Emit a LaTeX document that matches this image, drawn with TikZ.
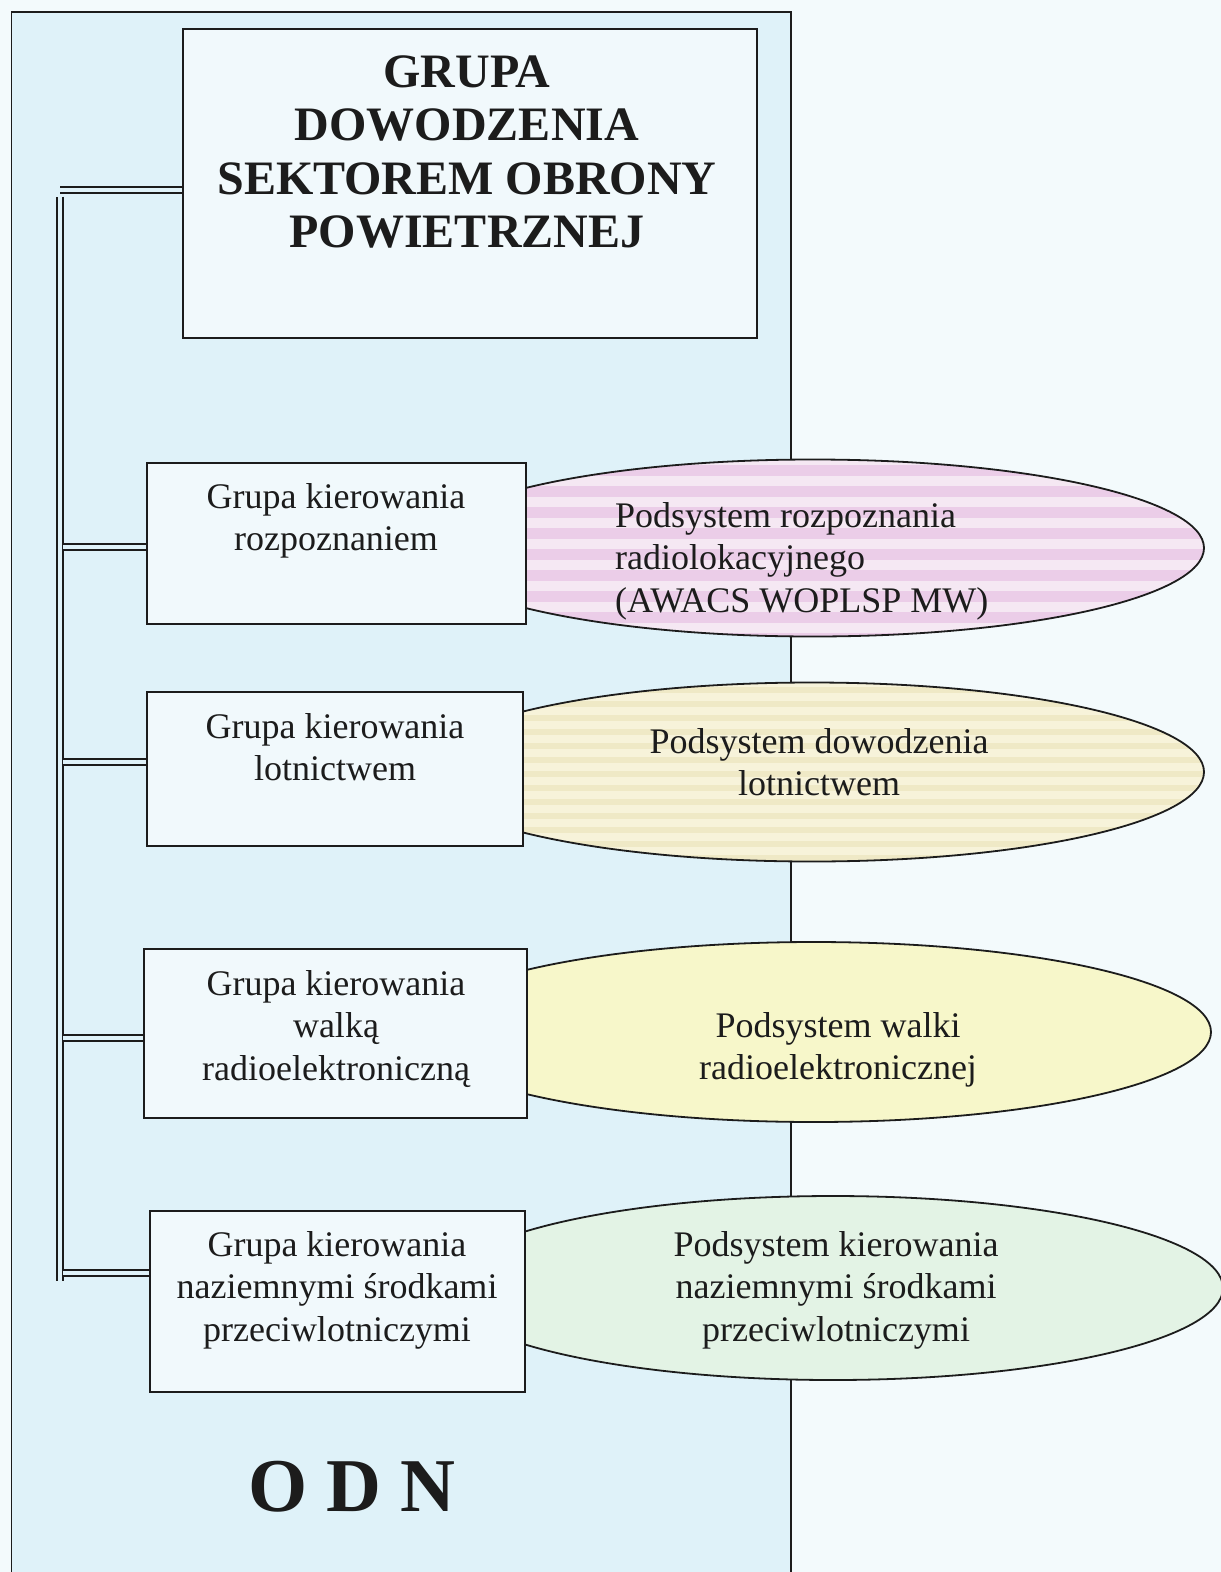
\documentclass[tikz,border=0pt]{standalone}
\usepackage{fontspec}
\setmainfont{Liberation Serif}
\usetikzlibrary{shapes.geometric}
\definecolor{pagebg}{HTML}{F3FAFC}
\definecolor{panelbg}{HTML}{DFF2F9}
\definecolor{boxbg}{HTML}{F1F9FC}
\definecolor{ink}{HTML}{1C1C1C}
\definecolor{pinkA}{HTML}{F5E8F3}
\definecolor{pinkB}{HTML}{EBCDE8}
\definecolor{yelA}{HTML}{F7F3DA}
\definecolor{yelB}{HTML}{EFE9C6}
\definecolor{yelC}{HTML}{F7F7CA}
\definecolor{grnC}{HTML}{E3F3E5}
\tikzset{
 gbox/.style={draw=ink, line width=1.8pt, fill=boxbg, inner sep=0pt},
 oval/.style={ellipse, draw=ink, line width=1.8pt, inner sep=0pt},
 txt/.style={text=ink, font=\fontsize{36}{42.5}\selectfont, align=center, inner sep=0pt},
 bus/.style={draw=ink, line width=2pt, double=panelbg, double distance=4.2pt},
}
\begin{document}
\begin{tikzpicture}[x=1pt,y=-1pt]
\useasboundingbox (0,0) rectangle (1221,1572);
\clip (0,0) rectangle (1221,1572);
\fill[pagebg] (0,0) rectangle (1221,1572);
\draw[ink, line width=1.8pt, fill=panelbg] (11.5,12) rectangle (791,1620);

% ellipses
\node[oval, minimum width=782pt, minimum height=177pt,
  path picture={
    \fill[pinkA] (path picture bounding box.south west) rectangle (path picture bounding box.north east);
    \foreach \k in {0,...,9}
      \fill[pinkB] ([yshift={-\k*21-5}]path picture bounding box.north west) rectangle ++(782,11);
  }] (e1) at (813,548) {};
\node[oval, minimum width=784pt, minimum height=179pt,
  path picture={
    \fill[yelA] (path picture bounding box.south west) rectangle (path picture bounding box.north east);
    \foreach \k in {0,...,14}
      \fill[yelB] ([yshift={-\k*14-4}]path picture bounding box.north west) rectangle ++(784,6);
  }] (e2) at (812,772) {};
\node[oval, fill=yelC, minimum width=794pt, minimum height=180pt] (e3) at (814,1032) {};
\node[oval, fill=grnC, minimum width=780pt, minimum height=184pt] (e4) at (833,1288) {};

% title box
\node[gbox, minimum width=574pt, minimum height=309pt] (title) at (470,183.5) {};

% group boxes
\node[gbox, minimum width=379pt, minimum height=161pt] (b1) at (336.5,543.5) {};
\node[gbox, minimum width=376pt, minimum height=154pt] (b2) at (335,769) {};
\node[gbox, minimum width=383pt, minimum height=169pt] (b3) at (335.5,1033.5) {};
\node[gbox, minimum width=375pt, minimum height=181pt] (b4) at (337.5,1301.5) {};

% bus
\coordinate (topend) at (60,190);
\coordinate (bustop) at (60.3,196.5);
\coordinate (busend) at (60.3,1281);
\coordinate (j1) at (63,547);
\coordinate (j2) at (63,762);
\coordinate (j3) at (63,1038);
\coordinate (j4) at (63,1273);
\draw[bus] (title.west |- topend) -- (topend);
\draw[bus] (bustop) -- (busend);
\draw[bus] (j1) -- (b1.west |- j1);
\draw[bus] (j2) -- (b2.west |- j2);
\draw[bus] (j3) -- (b3.west |- j3);
\draw[bus] (j4) -- (b4.west |- j4);

% texts
\node[txt, font=\bfseries\fontsize{48}{53.5}\selectfont] (titletxt) at (467,152) {GRUPA\\DOWODZENIA\\SEKTOREM OBRONY\\POWIETRZNEJ};
\node[txt] (t1) at (336,521) {Grupa kierowania\\rozpoznaniem};
\node[txt] (t2) at (335,747) {Grupa kierowania\\lotnictwem};
\node[txt] (t3) at (336,1029) {Grupa kierowania\\walką\\radioelektroniczną};
\node[txt] (t4) at (337,1290) {Grupa kierowania\\naziemnymi środkami\\przeciwlotniczymi};
\node[txt, align=left, anchor=west] (u1) at (615,561) {Podsystem rozpoznania\\radiolokacyjnego\\(AWACS WOPLSP MW)};
\node[txt] (u2) at (819,762) {Podsystem dowodzenia\\lotnictwem};
\node[txt] (u3) at (838,1050) {Podsystem walki\\radioelektronicznej};
\node[txt] (u4) at (836,1290) {Podsystem kierowania\\naziemnymi środkami\\przeciwlotniczymi};
\node[text=ink, font=\bfseries\fontsize{76}{80}\selectfont, inner sep=0pt] (odn) at (352,1487) {O D N};
\end{tikzpicture}
\end{document}
